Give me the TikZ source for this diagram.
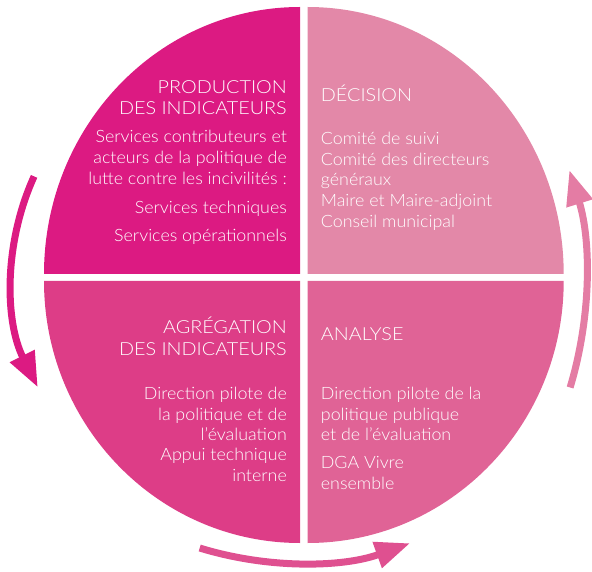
\documentclass[tikz,border=0pt]{standalone}
\usepackage{fontspec}
\setmainfont{Lato}[UprightFont=* Light]
\newfontfamily\quadheadfont{Lato}[UprightFont=* Light, FakeStretch=1.1]
\newfontfamily\quadbodyfont{Lato}[UprightFont=* Light, FakeStretch=1.05]
\usetikzlibrary{arrows.meta}

\definecolor{qprod}{HTML}{DC1A82}
\definecolor{qdeci}{HTML}{E388A8}
\definecolor{qagre}{HTML}{DD3D87}
\definecolor{qanal}{HTML}{E06396}
\definecolor{abottom}{HTML}{DF5090}
\definecolor{aright}{HTML}{E47CA4}

\begin{document}
\begin{tikzpicture}[x=1pt,y=-1pt,
  title/.style={text=white, inner sep=0pt, font=\quadheadfont\fontsize{18}{20}\selectfont},
  body/.style={text=white, inner sep=0pt, font=\quadbodyfont\fontsize{17}{20}\selectfont},
  cycle arrow/.style={line width=7pt, -{Triangle[length=35pt,width=26pt]}}]
\useasboundingbox (0,0) rectangle (592,572);
\clip (0,0) rectangle (592,572);

% four quarter sectors
\fill[qprod] (300,274) -- (44,274)
  arc[start angle=180, end angle=270, x radius=256, y radius=267] -- cycle;
\fill[qdeci] (307.7,274) -- (307.7,7)
  arc[start angle=270, end angle=360, x radius=256, y radius=267] -- cycle;
\fill[qagre] (300,281) -- (44,281)
  arc[start angle=180, end angle=90, x radius=256, y radius=262] -- cycle;
\fill[qanal] (307.7,281) -- (563.7,281)
  arc[start angle=0, end angle=90, x radius=256, y radius=262] -- cycle;

% cycle arrows
\coordinate (left-start) at (34.1,176.4);
\coordinate (bottom-start) at (199.7,548);
\coordinate (right-start) at (570.1,387.5);
\draw[cycle arrow, qprod] (left-start)
  arc[start angle=204.5, end angle=153.5, radius=245];
\draw[cycle arrow, abottom] (bottom-start)
  arc[start angle=107.1, end angle=70.3, radius=333.4];
\draw[cycle arrow, aright] (right-start)
  arc[start angle=16.8, end angle=-17.2, radius=372];

% production
\foreach \yy/\tx [count=\i] in {94/PRODUCTION, 115/DES INDICATEURS}
  \node[title, anchor=base east] (prod-t\i) at (287,\yy) {\tx};
\foreach \yy/\tx [count=\i] in {143/Services contributeurs et,
    164/acteurs de la politique de, 184.5/lutte contre les incivilités :,
    213.3/Services techniques, 241.7/Services opérationnels}
  \node[body, anchor=base east] (prod-b\i) at (287,\yy) {\tx};

% decision
\node[title, anchor=base west] (deci-t1) at (320.7,101.7) {DÉCISION};
\foreach \yy/\tx [count=\i] in {145/Comité de suivi,
    165.7/Comité des directeurs, 185.7/généraux,
    206.7/Maire et Maire-adjoint, 227.7/Conseil municipal}
  \node[body, anchor=base west] (deci-b\i) at (320.7,\yy) {\tx};

% aggregation
\foreach \yy/\tx [count=\i] in {333.3/AGRÉGATION, 355/DES INDICATEURS}
  \node[title, anchor=base east] (agre-t\i) at (287,\yy) {\tx};
\foreach \yy/\tx [count=\i] in {399.3/Direction pilote de,
    420/la politique et de, 440/l’évaluation,
    460.7/Appui technique, 481.7/interne}
  \node[body, anchor=base east] (agre-b\i) at (287,\yy) {\tx};

% analysis
\node[title, anchor=base west] (anal-t1) at (320.7,340) {ANALYSE};
\foreach \yy/\tx [count=\i] in {399.3/Direction pilote de la,
    420/politique publique, 440/et de l’évaluation,
    468.3/DGA Vivre, 489.3/ensemble}
  \node[body, anchor=base west] (anal-b\i) at (320.7,\yy) {\tx};
\end{tikzpicture}
\end{document}
